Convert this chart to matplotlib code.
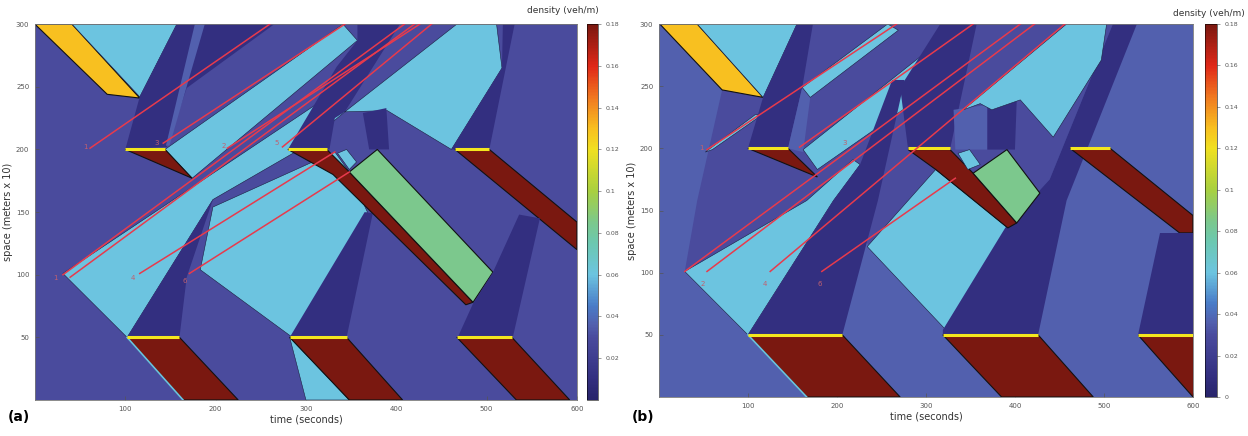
import numpy as np
import matplotlib
matplotlib.use("Agg")
import matplotlib.pyplot as plt
from matplotlib.colors import LinearSegmentedColormap
from matplotlib.patches import Polygon

# ======================
# colour scale (density, veh/m)
# ======================
CMAP_STOPS = [0.0, 0.01, 0.03, 0.036, 0.045, 0.06, 0.075, 0.085, 0.10, 0.12, 0.13, 0.145, 0.16, 0.18]
CMAP_COLORS = ["#28246a", "#332f80", "#4a4c9e", "#5260ae", "#4a7cc8", "#6cc4e0", "#6cc8b0",
               "#7cc88c", "#a8d040", "#f0e020", "#f8c020", "#f07820", "#e02818", "#7a1810"]
VMAX = 0.18

NAVY, SLATE, SLATE_L, CYAN, GREEN, YELLOW, JAM = 0.01, 0.03, 0.036, 0.06, 0.085, 0.13, 0.18

# ======================
# panel (a) regions  (time s, space m x 10)
# ======================
A_YELLOW = [(0, 300), (41, 300), (116, 241), (80, 244)]
A_CYAN_TOP = [(41, 300), (157, 300), (116, 242)]
A_NAVY_1 = [(157, 300), (265, 300), (168, 249), (146, 202), (100, 200), (116, 242)]
A_STRIPE = [(177, 300), (188, 300), (149, 203), (145, 203)]
A_CYAN_G = [(31, 101), (102, 50), (197, 160), (293, 200), (343, 230), (326, 243)]
A_CYAN_D = [(144, 200), (341, 300), (357, 287), (174, 177)]
A_JAM_1 = [(100, 200), (144, 200), (174, 177)]
A_NAVY_W = [(102, 50), (160, 50), (168, 98), (197, 160)]
A_JAM_2 = [(102, 50), (160, 50), (225, 0), (164, 0)]
A_CYAN_F = [(197, 154), (332, 198), (348, 182), (368, 150), (293, 56), (285, 50), (183, 104)]
A_CYAN_B = [(282, 50), (348, 0), (300, 0)]
A_NAVY_4 = [(282, 50), (345, 50), (374, 149), (365, 150)]
A_JAM_3 = [(282, 50), (345, 50), (407, 0), (348, 0)]
A_NAVY_2 = [(280, 200), (326, 200), (332, 225), (343, 230), (404, 300), (357, 300), (357, 287), (334, 266)]
A_CYAN_E = [(467, 300), (511, 300), (517, 265), (461, 200), (390, 231), (343, 230)]
A_NAVY_B = [(363, 229), (389, 233), (392, 200), (370, 200)]
A_NAVY_3 = [(461, 200), (517, 265), (518, 300), (531, 300), (503, 200)]
A_JAM_4 = [(465, 200), (503, 200), (600, 142), (600, 120)]
A_JAM_5 = [(280, 200), (323, 200), (348, 182), (485, 78), (477, 76), (330, 180)]
A_CYAN_SQ = [(335, 197), (345, 200), (356, 190), (348, 184)]
A_GREEN = [(348, 182), (379, 200), (507, 102), (485, 78)]
A_NAVY_5 = [(468, 50), (529, 50), (559, 145), (536, 148), (507, 102), (485, 77)]
A_JAM_6 = [(467, 50), (528, 50), (592, 0), (533, 0)]

A_REGIONS = [
    (A_YELLOW, YELLOW, True), (A_CYAN_TOP, CYAN, False), (A_NAVY_1, NAVY, False),
    (A_STRIPE, SLATE_L, False), (A_CYAN_G, CYAN, False), (A_CYAN_D, CYAN, False),
    (A_JAM_1, JAM, True), (A_NAVY_W, NAVY, False), (A_JAM_2, JAM, True),
    (A_CYAN_F, CYAN, False), (A_CYAN_B, CYAN, False), (A_NAVY_4, NAVY, False),
    (A_JAM_3, JAM, True), (A_NAVY_2, NAVY, False), (A_CYAN_E, CYAN, False),
    (A_NAVY_B, NAVY, False), (A_NAVY_3, NAVY, False), (A_JAM_4, JAM, True),
    (A_JAM_5, JAM, True), (A_CYAN_SQ, CYAN, False), (A_GREEN, GREEN, True),
    (A_NAVY_5, NAVY, False), (A_JAM_6, JAM, True),
]

# red phases (signal at space 50 and 200): (space, t_start, t_end)
A_SIGNALS = [(200, 100, 144), (200, 280, 323), (200, 465, 503),
             (50, 102, 160), (50, 282, 345), (50, 467, 528)]

# thin discharge edge next to the queues at space 50
A_EDGES = [[(102, 50), (164, 0)]]

# vehicle trajectories
A_TRAJ = [
    [(61, 201), (260, 300)], [(142, 205), (343, 300)], [(31, 100), (409, 300)],
    [(39, 98), (420, 300)], [(213, 201), (426, 300)], [(274, 202), (439, 300)],
    [(116, 101), (332, 198)], [(171, 101), (348, 182)],
]
A_LABEL_POS = [(56, 202), (135, 205), (209, 203), (268, 205), (23, 97), (108, 97), (166, 95)]
A_LABEL_TXT = ["1", "3", "2", "5", "1", "4", "6"]

# ======================
# panel (b) regions
# ======================
B_YELLOW = [(1, 300), (43, 300), (117, 241), (71, 247)]
B_CYAN_TOP = [(43, 300), (155, 300), (117, 241)]
B_SLATE_1 = [(71, 247), (155, 300), (510, 300), (439, 175), (389, 136), (237, 121), (196, 158), (29, 101), (43, 158)]
B_STRIP = [(52, 197), (60, 199), (116, 227), (108, 227)]
B_NAVY_1 = [(155, 300), (173, 300), (161, 249), (145, 200), (100, 200), (117, 241)]
B_BOX = [(161, 249), (170, 241), (162, 197), (145, 200)]
B_BAR_1 = [(161, 249), (170, 241), (269, 295), (257, 300)]
B_JAM_1 = [(100, 200), (145, 200), (178, 177)]
B_CYAN_D = [(162, 199), (178, 183), (276, 232), (321, 279), (310, 283)]
B_CYAN_G = [(29, 101), (100, 50), (196, 158), (226, 187), (218, 191), (166, 158)]
B_NAVY_3 = [(100, 50), (206, 50), (246, 158), (276, 255), (262, 255), (226, 187), (196, 158)]
B_JAM_2 = [(100, 50), (206, 50), (271, 0), (166, 0)]
B_CYAN_F = [(234, 121), (311, 183), (392, 136), (321, 55)]
B_NAVY_2 = [(280, 199), (327, 199), (357, 300), (316, 300), (271, 249)]
B_BLOCK_1 = [(331, 231), (369, 235), (369, 199), (333, 199)]
B_BLOCK_2 = [(369, 235), (402, 239), (400, 199), (369, 199)]
B_NAVY_4 = [(319, 50), (426, 50), (458, 158), (537, 300), (510, 300), (439, 175), (389, 136), (319, 54)]
B_CYAN_E = [(458, 300), (503, 300), (497, 271), (443, 209), (406, 239), (374, 231), (361, 236), (342, 231)]
B_JAM_3 = [(319, 50), (426, 50), (488, 0), (385, 0)]
B_JAM_4 = [(462, 200), (507, 200), (600, 146), (600, 132), (585, 132)]
B_NAVY_5 = [(538, 50), (600, 50), (600, 132), (563, 132)]
B_JAM_5 = [(538, 50), (600, 50), (600, 0)]
B_JAM_6 = [(280, 199), (327, 199), (353, 180), (402, 140), (392, 136), (311, 183)]
B_CYAN_SQ = [(336, 196), (349, 199), (361, 187), (347, 183)]
B_GREEN = [(353, 180), (391, 199), (428, 164), (402, 140)]

B_REGIONS = [
    (B_SLATE_1, SLATE, False), (B_YELLOW, YELLOW, True), (B_CYAN_TOP, CYAN, False),
    (B_STRIP, CYAN, False), (B_NAVY_1, NAVY, False), (B_BOX, SLATE_L, False),
    (B_BAR_1, CYAN, False), (B_JAM_1, JAM, True), (B_CYAN_D, CYAN, False),
    (B_CYAN_G, CYAN, False), (B_NAVY_3, NAVY, False), (B_JAM_2, JAM, True),
    (B_CYAN_F, CYAN, False), (B_NAVY_2, NAVY, False), (B_BLOCK_1, SLATE_L, False),
    (B_BLOCK_2, NAVY, False), (B_NAVY_4, NAVY, False), (B_CYAN_E, CYAN, False),
    (B_JAM_3, JAM, True), (B_JAM_4, JAM, True), (B_NAVY_5, NAVY, False),
    (B_JAM_5, JAM, True), (B_JAM_6, JAM, True), (B_CYAN_SQ, CYAN, False),
    (B_GREEN, GREEN, True),
]

B_SIGNALS = [(200, 100, 145), (200, 280, 327), (200, 462, 507),
             (50, 100, 206), (50, 319, 426), (50, 538, 600)]

B_EDGES = [[(100, 50), (166, 0)]]

B_TRAJ = [
    [(54, 199), (267, 300)], [(158, 201), (353, 300)], [(29, 101), (406, 300)],
    [(54, 101), (422, 300)], [(125, 101), (456, 300)], [(183, 101), (333, 176)],
]
B_LABEL_POS = [(48, 200), (209, 204), (49, 91), (119, 91), (181, 91)]
B_LABEL_TXT = ["1", "3", "2", "4", "6"]

# ======================
# drawing
# ======================
cmap = LinearSegmentedColormap.from_list(
    "dens", [(v / VMAX, c) for v, c in zip(CMAP_STOPS, CMAP_COLORS)])
norm = plt.Normalize(0, VMAX)

fig = plt.figure(figsize=(12.48, 4.36), dpi=100)


def draw_panel(rect, cbar_rect, bg, regions, signals, edges, trajs, lab_pos,
               lab_txt, tag, cticks, title_xy):
    ax = fig.add_axes(rect)
    ax.set_xlim(0, 600)
    ax.set_ylim(0, 300)
    ax.set_facecolor(cmap(norm(bg)))
    for verts, dens, edged in regions:
        if edged:
            ec, lw = "#111111", 0.8
        elif dens == CYAN:
            ec, lw = "#1c1c40", 0.4
        else:
            ec, lw = "none", 0
        ax.add_patch(Polygon(verts, closed=True, facecolor=cmap(norm(dens)),
                             edgecolor=ec, linewidth=lw, zorder=2))
    for e in edges:
        tt, ss = zip(*e)
        ax.plot(tt, ss, color=cmap(norm(CYAN)), lw=1.2, zorder=3)
    for s, t0, t1 in signals:
        ax.plot([t0, t1], [s, s], color="#f4e61e", lw=2.2, zorder=4,
                solid_capstyle="butt")
    for tr in trajs:
        tt, ss = zip(*tr)
        ax.plot(tt, ss, color="#e83a4c", lw=1.1, zorder=5)
    for (t, s), txt in zip(lab_pos, lab_txt):
        ax.text(t, s, txt, color="#c06070", fontsize=5, ha="center",
                va="center", zorder=6)

    ax.set_xticks([100, 200, 300, 400, 500, 600])
    ax.set_yticks([50, 100, 150, 200, 250, 300])
    ax.tick_params(direction="in", length=3, width=0.5, labelsize=5,
                   colors="#555555", pad=4)
    for sp in ax.spines.values():
        sp.set_linewidth(0.6)
        sp.set_color("#777777")
    ax.set_xlabel("time (seconds)", fontsize=7, color="#333333", labelpad=2)
    ax.set_ylabel("space (meters x 10)", fontsize=7, color="#333333", labelpad=2)

    cax = fig.add_axes(cbar_rect)
    sm = matplotlib.cm.ScalarMappable(norm=norm, cmap=cmap)
    cb = fig.colorbar(sm, cax=cax, ticks=cticks)
    cb.ax.tick_params(labelsize=4.5, length=2, width=0.4, colors="#555555")
    cb.ax.set_yticklabels([("%g" % v) for v in cticks])
    cb.outline.set_linewidth(0.4)
    fig.text(title_xy[0], title_xy[1], "density (veh/m)", fontsize=6.5,
             color="#333333", ha="right", va="center")
    fig.text(rect[0] - 0.022, 0.035, tag, fontsize=10, fontweight="bold")
    return ax


draw_panel([0.028, 0.0826, 0.4343, 0.862], [0.4704, 0.0826, 0.0085, 0.862],
           SLATE, A_REGIONS, A_SIGNALS, A_EDGES, A_TRAJ, A_LABEL_POS, A_LABEL_TXT,
           "(a)", [0.02, 0.04, 0.06, 0.08, 0.1, 0.12, 0.14, 0.16, 0.18],
           (0.480, 0.975))
draw_panel([0.528, 0.0894, 0.4279, 0.8555], [0.9655, 0.0894, 0.0095, 0.8555],
           SLATE_L, B_REGIONS, B_SIGNALS, B_EDGES, B_TRAJ, B_LABEL_POS, B_LABEL_TXT,
           "(b)", [0, 0.02, 0.04, 0.06, 0.08, 0.1, 0.12, 0.14, 0.16, 0.18],
           (0.997, 0.970))

fig.savefig("out.png", dpi=100)
